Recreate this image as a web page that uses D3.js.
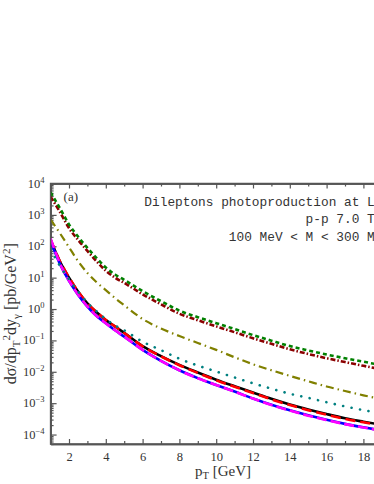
<!DOCTYPE html>
<html>
<head>
<meta charset="utf-8">
<script src="https://cdn.jsdelivr.net/npm/d3@7"></script>
<style>
  body { margin: 0; background: #fff; }
  svg { display: block; }
  .axis path, .axis line { stroke: #555; }
  .axis text { font-family: "Liberation Serif", serif; font-size: 12.5px; fill: #333; }
</style>
</head>
<body>
<svg></svg>
<script>
// pT values (GeV)
var pT = [1, 1.5, 2, 2.5, 3, 3.5, 4, 4.5, 5, 6, 7, 8, 9, 10, 11, 12, 13, 14, 15, 16, 17, 18, 19, 20];

// cross sections [pb/GeV^2]
var greenDash = [5200, 1660, 500, 200, 89, 42, 21, 12.6, 8.5, 3.7, 1.78, 0.89, 0.55, 0.355, 0.23, 0.148, 0.098, 0.066, 0.048, 0.0355, 0.027, 0.021, 0.0162, 0.0129];
var wineDashDot = [3800, 1260, 380, 158, 71, 33, 16.6, 10, 6.8, 2.95, 1.41, 0.71, 0.44, 0.28, 0.182, 0.117, 0.078, 0.052, 0.037, 0.027, 0.0204, 0.0155, 0.012, 0.0095];
var oliveDashDot = [710, 263, 93, 33, 14.1, 7.1, 4.0, 2.24, 1.32, 0.48, 0.24, 0.138, 0.083, 0.05, 0.029, 0.0174, 0.0112, 0.0074, 0.005, 0.0034, 0.00245, 0.00178, 0.00135, 0.00105];
var tealDot = [80, 24, 8.9, 3.55, 1.58, 0.85, 0.48, 0.3, 0.21, 0.091, 0.049, 0.026, 0.0158, 0.0102, 0.0066, 0.0043, 0.0029, 0.002, 0.00148, 0.00107, 0.00079, 0.0006, 0.00047, 0.00037];
var blackSolid = [158, 33, 10, 3.55, 1.51, 0.79, 0.45, 0.28, 0.174, 0.066, 0.0316, 0.0166, 0.0095, 0.0056, 0.00347, 0.00219, 0.00138, 0.00091, 0.00063, 0.00045, 0.00033, 0.000257, 0.000204, 0.000162];
var redSolid = [160, 34, 10.2, 3.6, 1.52, 0.79, 0.45, 0.28, 0.172, 0.065, 0.031, 0.0162, 0.0092, 0.0054, 0.00333, 0.0021, 0.00132, 0.00087, 0.0006, 0.00043, 0.000315, 0.000245, 0.000195, 0.000155];
var blueSolid = [148, 28, 7.9, 2.82, 1.2, 0.6, 0.35, 0.21, 0.132, 0.05, 0.0224, 0.0112, 0.0063, 0.0038, 0.00234, 0.00141, 0.00089, 0.00059, 0.00041, 0.000295, 0.000219, 0.00017, 0.000135, 0.000107];
var magentaSolid = [178, 29, 8.0, 2.85, 1.21, 0.6, 0.35, 0.21, 0.132, 0.05, 0.0222, 0.0111, 0.0062, 0.0038, 0.00233, 0.0014, 0.00088, 0.00058, 0.0004, 0.00029, 0.000215, 0.000167, 0.000133, 0.000105];

// tick values
var xMajor = [2, 4, 6, 8, 10, 12, 14, 16, 18, 20];
var xMinor = [1, 3, 5, 7, 9, 11, 13, 15, 17, 19];
var yExponents = [-4, -3, -2, -1, 0, 1, 2, 3, 4];

var annotation = ["Dileptons photoproduction at LHC", "p-p 7.0 TeV", "100 MeV < M < 300 MeV"];

// dimensions
var svgWidth = 374;
var svgHeight = 484;
var margin = { top: 183.5, left: 50.6 };
var chartWidth = 349.6;   // goes past the right edge of the window, like the reference
var chartHeight = 260.5;

var svg = d3.select("svg")
  .attr("width", svgWidth)
  .attr("height", svgHeight);

var chartGroup = svg.append("g")
  .attr("transform", `translate(${margin.left}, ${margin.top})`);

var xScale = d3.scaleLinear().domain([1, 20]).range([0, chartWidth]);
var yScale = d3.scaleLog().domain([5e-5, 1e4]).range([chartHeight, 0]);

// clip for the curves
svg.append("defs").append("clipPath").attr("id", "plotclip")
  .append("rect").attr("width", chartWidth).attr("height", chartHeight);

// minor log ticks
var yMajor = yExponents.map(e => Math.pow(10, e));
var yMinor = [];
d3.range(-5, 4).forEach(function(e) {
  for (var m = 2; m <= 9; m++) {
    var v = m * Math.pow(10, e);
    if (v >= 5e-5 && v <= 1e4) yMinor.push(v);
  }
});

// axes - ticks point inside
chartGroup.append("g").attr("class", "axis")
  .call(d3.axisLeft(yScale).tickValues(yMajor).tickSize(-6).tickSizeOuter(0).tickFormat(""));
chartGroup.append("g").attr("class", "axis")
  .call(d3.axisLeft(yScale).tickValues(yMinor).tickSize(-3).tickSizeOuter(0).tickFormat(""));

chartGroup.append("g").attr("class", "axis")
  .attr("transform", `translate(0,${chartHeight})`)
  .call(d3.axisBottom(xScale).tickValues(xMajor).tickSize(-5).tickSizeOuter(0).tickPadding(8.5));
chartGroup.append("g").attr("class", "axis")
  .attr("transform", `translate(0,${chartHeight})`)
  .call(d3.axisBottom(xScale).tickValues(xMinor).tickSize(-3).tickSizeOuter(0).tickFormat(""));

chartGroup.append("g").attr("class", "axis")
  .call(d3.axisTop(xScale).tickValues(xMajor).tickSize(-5).tickSizeOuter(0).tickFormat(""));
chartGroup.append("g").attr("class", "axis")
  .call(d3.axisTop(xScale).tickValues(xMinor).tickSize(-3).tickSizeOuter(0).tickFormat(""));

chartGroup.selectAll(".axis path").attr("stroke-width", 1.5);
chartGroup.selectAll(".axis line").attr("stroke-width", 1.2);

// y tick labels 10^n
yExponents.forEach(function(e) {
  var t = chartGroup.append("text")
    .attr("x", -6)
    .attr("y", yScale(Math.pow(10, e)) + 4)
    .attr("text-anchor", "end")
    .style("font-family", "Liberation Serif, serif")
    .style("font-size", "12.5px")
    .style("fill", "#333");
  t.append("tspan").text("10");
  t.append("tspan").attr("dy", -5).style("font-size", "8.5px").text(e < 0 ? "\u2212" + (-e) : e);
});

// curves
var series = [
  { vals: blackSolid, color: "#000000", width: 2.6, dash: null },
  { vals: redSolid, color: "#ff0000", width: 2.6, dash: "10,5" },
  { vals: blueSolid, color: "#0000ff", width: 2.6, dash: null },
  { vals: magentaSolid, color: "#ff00ff", width: 2.6, dash: "10,4" },
  { vals: tealDot, color: "#008080", width: 2.6, dash: "0.1,8.5", cap: "round" },
  { vals: oliveDashDot, color: "#808000", width: 2.2, dash: "8,4,1.5,4" },
  { vals: wineDashDot, color: "#8b0000", width: 2.6, dash: "5,2,1.5,2" },
  { vals: greenDash, color: "#008000", width: 2.6, dash: "4,3" }
];

var drawLine = d3.line()
  .x(d => xScale(d[0]))
  .y(d => yScale(d[1]))
  .curve(d3.curveMonotoneX);

var curves = chartGroup.append("g").attr("clip-path", "url(#plotclip)");
series.forEach(function(s) {
  var pts = pT.map((p, i) => [p, s.vals[i]]);
  curves.append("path")
    .attr("d", drawLine(pts))
    .attr("fill", "none")
    .attr("stroke", s.color)
    .attr("stroke-width", s.width)
    .attr("stroke-linecap", s.cap || "butt")
    .attr("stroke-dasharray", s.dash);
});

// frame on top of curves
chartGroup.append("path")
  .attr("d", `M${chartWidth},0H0V${chartHeight}H${chartWidth}`)
  .attr("fill", "none")
  .attr("stroke", "#555")
  .attr("stroke-width", 1.5);

// panel label and annotation
chartGroup.append("text")
  .attr("x", 13).attr("y", 17.5)
  .style("font-family", "Liberation Serif, serif")
  .style("font-size", "13px")
  .style("fill", "#333")
  .text("(a)");

annotation.forEach(function(line, i) {
  chartGroup.append("text")
    .attr("x", 339.5)
    .attr("y", 22.5 + i * 17.3)
    .attr("text-anchor", "end")
    .style("font-family", "Liberation Mono, monospace")
    .style("font-size", "12.8px")
    .style("fill", "#333")
    .text(line);
});

// x axis title
var xt = svg.append("text")
  .attr("x", 195).attr("y", 475.5)
  .style("font-family", "Liberation Serif, serif")
  .style("font-size", "15px")
  .style("fill", "#333");
xt.append("tspan").text("p");
xt.append("tspan").attr("dy", 3.5).style("font-size", "10.5px").text("T");
xt.append("tspan").attr("dy", -3.5).text(" [GeV]");

// y axis title
var yt = svg.append("text")
  .attr("transform", "translate(16," + (margin.top + chartHeight / 2) + ") rotate(-90)")
  .attr("text-anchor", "middle")
  .style("font-family", "Liberation Serif, serif")
  .style("font-size", "16px")
  .style("fill", "#333");
yt.append("tspan").text("d\u03c3/dp");
yt.append("tspan").attr("dy", 4).style("font-size", "11px").text("T");
yt.append("tspan").attr("dy", -10.5).style("font-size", "11px").text("2");
yt.append("tspan").attr("dy", 6.5).text("dy");
yt.append("tspan").attr("dy", 4).style("font-size", "11px").text("\u03b3");
yt.append("tspan").attr("dy", -4).text(" [pb/GeV");
yt.append("tspan").attr("dy", -6.5).style("font-size", "11px").text("2");
yt.append("tspan").attr("dy", 6.5).text("]");
</script>
</body>
</html>
